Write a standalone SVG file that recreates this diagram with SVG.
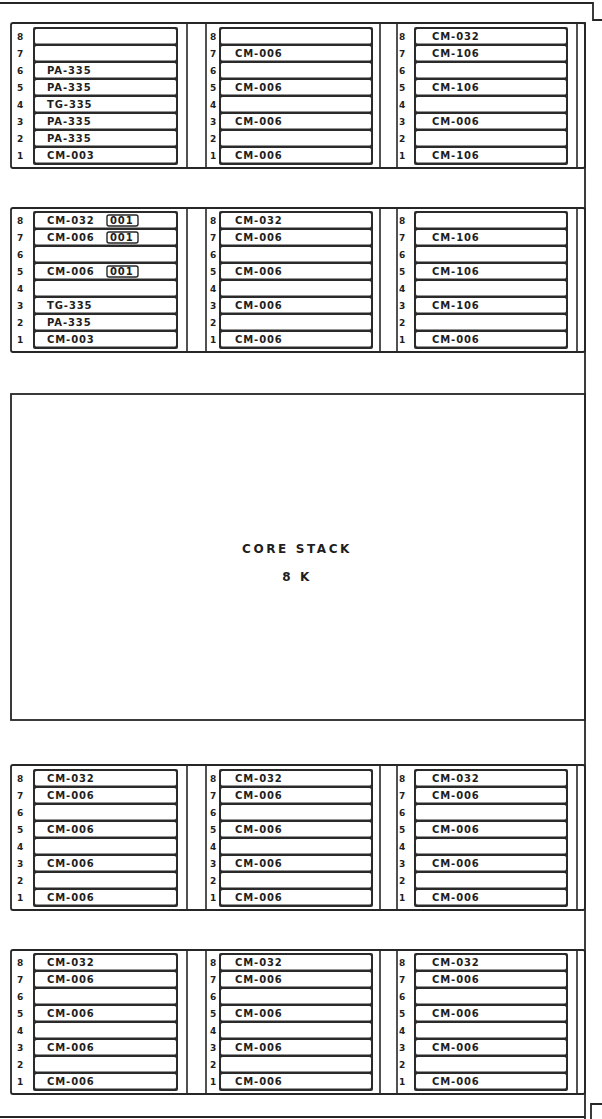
<svg xmlns="http://www.w3.org/2000/svg" xmlns:xlink="http://www.w3.org/1999/xlink" width="602" height="1119" viewBox="0 0 602 1119">
<style>
.frame{fill:none;stroke:#262626;stroke-width:1.8}
.row{fill:none;stroke:#262626;stroke-width:1.8}
.sep{stroke:#262626;stroke-width:1.6}
.cardbg{fill:#2a2a2a}
.slot{fill:#fff}
.lbl{font-family:"DejaVu Sans",sans-serif;font-weight:bold;font-size:10px;fill:#1e1e1e;letter-spacing:0.9px}
.num{font-family:"DejaVu Sans",sans-serif;font-weight:bold;font-size:9px;fill:#1e1e1e;text-anchor:middle}
.tag{fill:#fff;stroke:#262626;stroke-width:1.4}
.core{font-family:"DejaVu Sans",sans-serif;font-weight:bold;font-size:12px;fill:#1e1e1e;text-anchor:middle;letter-spacing:2.6px}
</style>
<defs>
<g id="card145">
<rect class="cardbg" x="0" y="0" width="145" height="138" rx="2"/>
<rect class="slot" x="2" y="2" width="141" height="14.5" rx="1.5"/>
<rect class="slot" x="2" y="19" width="141" height="14.5" rx="1.5"/>
<rect class="slot" x="2" y="36" width="141" height="14.5" rx="1.5"/>
<rect class="slot" x="2" y="53" width="141" height="14.5" rx="1.5"/>
<rect class="slot" x="2" y="70" width="141" height="14.5" rx="1.5"/>
<rect class="slot" x="2" y="87" width="141" height="14.5" rx="1.5"/>
<rect class="slot" x="2" y="104" width="141" height="14.5" rx="1.5"/>
<rect class="slot" x="2" y="121" width="141" height="14.5" rx="1.5"/>
</g>
<g id="card154">
<rect class="cardbg" x="0" y="0" width="154" height="138" rx="2"/>
<rect class="slot" x="2" y="2" width="150" height="14.5" rx="1.5"/>
<rect class="slot" x="2" y="19" width="150" height="14.5" rx="1.5"/>
<rect class="slot" x="2" y="36" width="150" height="14.5" rx="1.5"/>
<rect class="slot" x="2" y="53" width="150" height="14.5" rx="1.5"/>
<rect class="slot" x="2" y="70" width="150" height="14.5" rx="1.5"/>
<rect class="slot" x="2" y="87" width="150" height="14.5" rx="1.5"/>
<rect class="slot" x="2" y="104" width="150" height="14.5" rx="1.5"/>
<rect class="slot" x="2" y="121" width="150" height="14.5" rx="1.5"/>
</g>
<g id="nums">
<text x="0" y="13">8</text><text x="0" y="30">7</text><text x="0" y="47">6</text><text x="0" y="64">5</text>
<text x="0" y="81">4</text><text x="0" y="98">3</text><text x="0" y="115">2</text><text x="0" y="132">1</text>
</g>
</defs>
<rect width="602" height="1119" fill="#fff"/>

<g id="outer-frame">
<path class="frame" d="M0,3 H593 V20 H602"/>
<path class="frame" d="M585,22 V1119"/>
<path class="frame" d="M602,1104 H591 V1119"/>
<path class="frame" d="M0,1117 H585"/>
</g>

<g id="connectors">
<line class="sep" x1="187" y1="23" x2="187" y2="168"/><line class="sep" x1="206" y1="23" x2="206" y2="168"/>
<line class="sep" x1="380" y1="23" x2="380" y2="168"/><line class="sep" x1="397" y1="23" x2="397" y2="168"/>
<line class="sep" x1="577" y1="23" x2="577" y2="168"/>
<line class="sep" x1="187" y1="208" x2="187" y2="352"/><line class="sep" x1="206" y1="208" x2="206" y2="352"/>
<line class="sep" x1="380" y1="208" x2="380" y2="352"/><line class="sep" x1="397" y1="208" x2="397" y2="352"/>
<line class="sep" x1="577" y1="208" x2="577" y2="352"/>
<line class="sep" x1="187" y1="765" x2="187" y2="910"/><line class="sep" x1="206" y1="765" x2="206" y2="910"/>
<line class="sep" x1="380" y1="765" x2="380" y2="910"/><line class="sep" x1="397" y1="765" x2="397" y2="910"/>
<line class="sep" x1="577" y1="765" x2="577" y2="910"/>
<line class="sep" x1="187" y1="950" x2="187" y2="1094"/><line class="sep" x1="206" y1="950" x2="206" y2="1094"/>
<line class="sep" x1="380" y1="950" x2="380" y2="1094"/><line class="sep" x1="397" y1="950" x2="397" y2="1094"/>
<line class="sep" x1="577" y1="950" x2="577" y2="1094"/>
</g>

<g id="row1">
<rect class="row" x="11" y="23" width="574" height="145" rx="2"/>
<g id="r1-rack1">
<use href="#card145" x="33" y="27"/>
<use href="#nums" x="20" y="27" class="num"/>
<text class="lbl" x="47" y="74">PA-335</text><text class="lbl" x="47" y="91">PA-335</text>
<text class="lbl" x="47" y="108">TG-335</text><text class="lbl" x="47" y="125">PA-335</text>
<text class="lbl" x="47" y="142">PA-335</text><text class="lbl" x="47" y="159">CM-003</text>
</g>
<g id="r1-rack2">
<use href="#card154" x="219" y="27"/>
<use href="#nums" x="213" y="27" class="num"/>
<text class="lbl" x="235" y="57">CM-006</text><text class="lbl" x="235" y="91">CM-006</text>
<text class="lbl" x="235" y="125">CM-006</text><text class="lbl" x="235" y="159">CM-006</text>
</g>
<g id="r1-rack3">
<use href="#card154" x="414" y="27"/>
<use href="#nums" x="402" y="27" class="num"/>
<text class="lbl" x="432" y="40">CM-032</text><text class="lbl" x="432" y="57">CM-106</text>
<text class="lbl" x="432" y="91">CM-106</text><text class="lbl" x="432" y="125">CM-006</text>
<text class="lbl" x="432" y="159">CM-106</text>
</g>
</g>

<g id="row2">
<rect class="row" x="11" y="208" width="574" height="144" rx="2"/>
<g id="r2-rack1">
<use href="#card145" x="33" y="211"/>
<use href="#nums" x="20" y="211" class="num"/>
<text class="lbl" x="47" y="224">CM-032</text><text class="lbl" x="47" y="241">CM-006</text>
<text class="lbl" x="47" y="275">CM-006</text><text class="lbl" x="47" y="309">TG-335</text>
<text class="lbl" x="47" y="326">PA-335</text><text class="lbl" x="47" y="343">CM-003</text>
<rect class="tag" x="107" y="215" width="31" height="11" rx="2"/><text class="lbl" x="110" y="224">001</text>
<rect class="tag" x="107" y="232" width="31" height="11" rx="2"/><text class="lbl" x="110" y="241">001</text>
<rect class="tag" x="107" y="266" width="31" height="11" rx="2"/><text class="lbl" x="110" y="275">001</text>
</g>
<g id="r2-rack2">
<use href="#card154" x="219" y="211"/>
<use href="#nums" x="213" y="211" class="num"/>
<text class="lbl" x="235" y="224">CM-032</text><text class="lbl" x="235" y="241">CM-006</text>
<text class="lbl" x="235" y="275">CM-006</text><text class="lbl" x="235" y="309">CM-006</text>
<text class="lbl" x="235" y="343">CM-006</text>
</g>
<g id="r2-rack3">
<use href="#card154" x="414" y="211"/>
<use href="#nums" x="402" y="211" class="num"/>
<text class="lbl" x="432" y="241">CM-106</text><text class="lbl" x="432" y="275">CM-106</text>
<text class="lbl" x="432" y="309">CM-106</text><text class="lbl" x="432" y="343">CM-006</text>
</g>
</g>

<g id="core-stack">
<rect class="row" x="11" y="394" width="574" height="326"/>
<text class="core" x="297" y="553">CORE STACK</text>
<text class="core" x="297" y="581">8 K</text>
</g>

<g id="row3">
<rect class="row" x="11" y="765" width="574" height="145" rx="2"/>
<g id="r3-rack1">
<use href="#card145" x="33" y="769"/>
<use href="#nums" x="20" y="769" class="num"/>
<text class="lbl" x="47" y="782">CM-032</text><text class="lbl" x="47" y="799">CM-006</text>
<text class="lbl" x="47" y="833">CM-006</text><text class="lbl" x="47" y="867">CM-006</text>
<text class="lbl" x="47" y="901">CM-006</text>
</g>
<g id="r3-rack2">
<use href="#card154" x="219" y="769"/>
<use href="#nums" x="213" y="769" class="num"/>
<text class="lbl" x="235" y="782">CM-032</text><text class="lbl" x="235" y="799">CM-006</text>
<text class="lbl" x="235" y="833">CM-006</text><text class="lbl" x="235" y="867">CM-006</text>
<text class="lbl" x="235" y="901">CM-006</text>
</g>
<g id="r3-rack3">
<use href="#card154" x="414" y="769"/>
<use href="#nums" x="402" y="769" class="num"/>
<text class="lbl" x="432" y="782">CM-032</text><text class="lbl" x="432" y="799">CM-006</text>
<text class="lbl" x="432" y="833">CM-006</text><text class="lbl" x="432" y="867">CM-006</text>
<text class="lbl" x="432" y="901">CM-006</text>
</g>
</g>

<g id="row4">
<rect class="row" x="11" y="950" width="574" height="144" rx="2"/>
<g id="r4-rack1">
<use href="#card145" x="33" y="953"/>
<use href="#nums" x="20" y="953" class="num"/>
<text class="lbl" x="47" y="966">CM-032</text><text class="lbl" x="47" y="983">CM-006</text>
<text class="lbl" x="47" y="1017">CM-006</text><text class="lbl" x="47" y="1051">CM-006</text>
<text class="lbl" x="47" y="1085">CM-006</text>
</g>
<g id="r4-rack2">
<use href="#card154" x="219" y="953"/>
<use href="#nums" x="213" y="953" class="num"/>
<text class="lbl" x="235" y="966">CM-032</text><text class="lbl" x="235" y="983">CM-006</text>
<text class="lbl" x="235" y="1017">CM-006</text><text class="lbl" x="235" y="1051">CM-006</text>
<text class="lbl" x="235" y="1085">CM-006</text>
</g>
<g id="r4-rack3">
<use href="#card154" x="414" y="953"/>
<use href="#nums" x="402" y="953" class="num"/>
<text class="lbl" x="432" y="966">CM-032</text><text class="lbl" x="432" y="983">CM-006</text>
<text class="lbl" x="432" y="1017">CM-006</text><text class="lbl" x="432" y="1051">CM-006</text>
<text class="lbl" x="432" y="1085">CM-006</text>
</g>
</g>
</svg>
